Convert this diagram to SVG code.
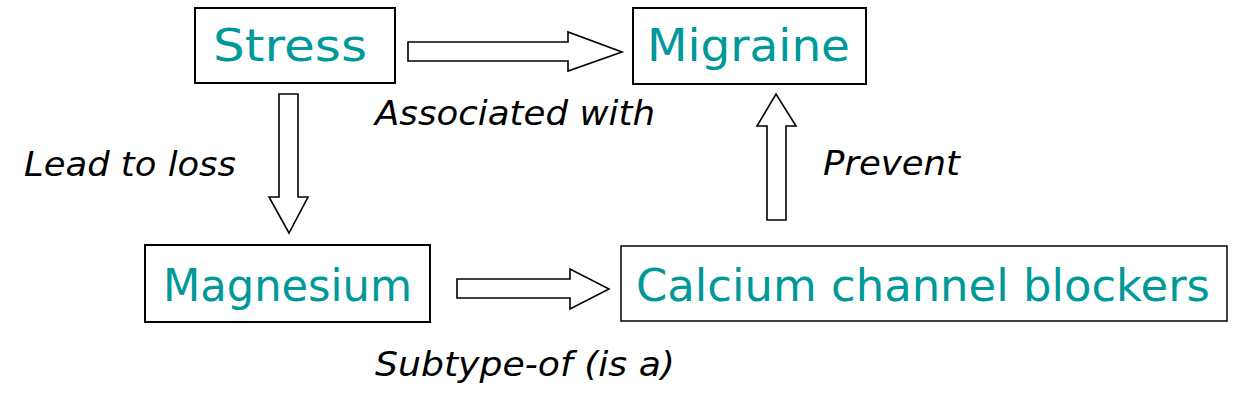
<svg xmlns="http://www.w3.org/2000/svg" width="1242" height="408" viewBox="0 0 1242 408">
<style>
.box{fill:#fff;stroke:#000;stroke-width:2}
.thin{stroke-width:1.5}
.nt{font-family:"DejaVu Sans","Noto Sans",sans-serif;font-size:44px;fill:#009999}
.lt{font-family:"DejaVu Sans","Noto Sans",sans-serif;font-size:33px;font-style:italic;fill:#000}
.arr{fill:#fff;stroke:#000;stroke-width:1.6;stroke-linejoin:miter}
</style>
<rect width="1242" height="408" fill="#fff"/>
<g id="connectors">
<polygon class="arr" points="408,42 568,42 568,32 622,52 568,71 568,61 408,61"/>
<polygon class="arr" points="279,94 298,94 298,197 308,197 289,233 269,197 279,197"/>
<polygon class="arr" points="767,220 786,220 786,126 796,126 776,94 757,126 767,126"/>
<polygon class="arr" points="457,279 570,279 570,269 609,289 570,309 570,298 457,298"/>
</g>
<g id="labels">
<text class="lt" x="24" y="176" textLength="212" lengthAdjust="spacingAndGlyphs">Lead to loss</text>
<text class="lt" x="375" y="125" textLength="280" lengthAdjust="spacingAndGlyphs">Associated with</text>
<text class="lt" x="823" y="175" textLength="137" lengthAdjust="spacingAndGlyphs">Prevent</text>
<text class="lt" x="375" y="376" textLength="300" lengthAdjust="spacingAndGlyphs">Subtype-of (is a)</text>
</g>
<g id="node-stress">
<rect class="box" x="195" y="8" width="200" height="75"/>
<text class="nt" x="213" y="61" textLength="154" lengthAdjust="spacingAndGlyphs">Stress</text>
</g>
<g id="node-migraine">
<rect class="box" x="633" y="8" width="233" height="76"/>
<text class="nt" x="647" y="61" textLength="203" lengthAdjust="spacingAndGlyphs">Migraine</text>
</g>
<g id="node-magnesium">
<rect class="box" x="145" y="245" width="285" height="77"/>
<text class="nt" x="163" y="301" textLength="249" lengthAdjust="spacingAndGlyphs">Magnesium</text>
</g>
<g id="node-ccb">
<rect class="box thin" x="621" y="246" width="606" height="75"/>
<text class="nt" x="636" y="301" textLength="574" lengthAdjust="spacingAndGlyphs">Calcium channel blockers</text>
</g>
</svg>
